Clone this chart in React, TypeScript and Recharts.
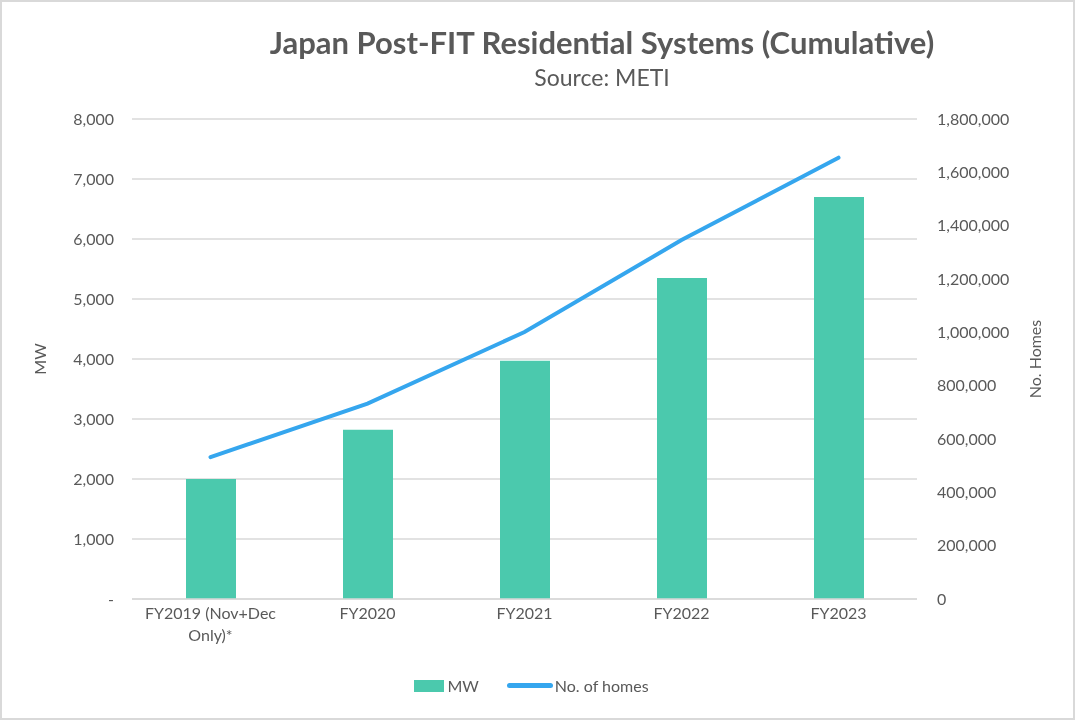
import React from "react";
import {
  ComposedChart,
  Bar,
  Line,
  XAxis,
  YAxis,
  CartesianGrid,
  Label,
} from "recharts";

const categories = [
  "FY2019 (Nov+Dec Only)*",
  "FY2020",
  "FY2021",
  "FY2022",
  "FY2023",
];
const mwValues = [2000, 2820, 3970, 5350, 6700];
const homesValues = [532000, 733000, 1001000, 1346000, 1655000];
const leftTicks = [0, 1000, 2000, 3000, 4000, 5000, 6000, 7000, 8000];
const rightTicks = [0, 200000, 400000, 600000, 800000, 1000000, 1200000, 1400000, 1600000, 1800000];

const data = categories.map((c, i) => ({
  name: c,
  mw: mwValues[i],
  homes: homesValues[i],
}));

const FONT = "Lato, 'Open Sans', sans-serif";
const TEXT = "#595959";
const BAR = "#4BC9AD";
const LINE = "#35A6EE";

const fmt = (v: number) => v.toLocaleString("en-US");

const XTick = (props: any) => {
  const { x, y, payload } = props;
  const label: string = payload.value;
  const lines = label === "FY2019 (Nov+Dec Only)*" ? ["FY2019 (Nov+Dec", "Only)*"] : [label];
  return (
    <g transform={`translate(${x},${y})`}>
      {lines.map((l, i) => (
        <text
          key={i}
          x={0}
          y={12 + i * 22}
          textAnchor="middle"
          fill={TEXT}
          fontSize={16}
          fontFamily={FONT}
        >
          {l}
        </text>
      ))}
    </g>
  );
};

export default function App() {
  return (
    <div
      style={{
        position: "fixed",
        left: 0,
        top: 0,
        width: 1075,
        height: 720,
        boxSizing: "border-box",
        border: "2px solid #d9d9d9",
        background: "#fff",
        fontFamily: FONT,
      }}
    >
      <div
        style={{
          position: "absolute",
          top: 21,
          left: 0,
          width: 1200,
          textAlign: "center",
          color: TEXT,
          fontSize: 31,
          fontWeight: 700,
          lineHeight: "38px",
        }}
      >
        Japan Post-FIT Residential Systems (Cumulative)
      </div>
      <div
        style={{
          position: "absolute",
          top: 60,
          left: 0,
          width: 1200,
          textAlign: "center",
          color: TEXT,
          fontSize: 23,
          lineHeight: "30px",
        }}
      >
        Source: METI
      </div>
      <div style={{ position: "absolute", left: -2, top: -2 }}>
        <ComposedChart
          width={1075}
          height={720}
          data={data}
          margin={{ top: 119, right: 20, bottom: 71, left: 20 }}
        >
          <CartesianGrid vertical={false} stroke="#d9d9d9" strokeWidth={1.5} yAxisId="left" />
          <XAxis
            dataKey="name"
            tick={<XTick />}
            tickLine={false}
            axisLine={{ stroke: "#d9d9d9", strokeWidth: 1.5 }}
            height={50}
            interval={0}
          />
          <YAxis
            yAxisId="left"
            orientation="left"
            width={112}
            domain={[0, 8000]}
            ticks={leftTicks}
            tickFormatter={(v: number) => (v === 0 ? "-" : fmt(v))}
            tick={{ fill: TEXT, fontSize: 16, fontFamily: FONT }}
            tickLine={false}
            axisLine={false}
            tickMargin={12}
          >
            <Label
              value="MW"
              angle={-90}
              position="insideLeft"
              offset={20}
              style={{ fill: TEXT, fontSize: 16, fontFamily: FONT, textAnchor: "middle" }}
            />
          </YAxis>
          <YAxis
            yAxisId="right"
            orientation="right"
            width={138}
            domain={[0, 1800000]}
            ticks={rightTicks}
            tickFormatter={(v: number) => fmt(v)}
            tick={{ fill: TEXT, fontSize: 16, fontFamily: FONT, textAnchor: "start" }}
            tickLine={false}
            axisLine={false}
            tickMargin={14}
          >
            <Label
              value="No. Homes"
              angle={-90}
              position="insideRight"
              offset={20}
              style={{ fill: TEXT, fontSize: 16, fontFamily: FONT, textAnchor: "middle" }}
            />
          </YAxis>
          <Bar
            yAxisId="left"
            dataKey="mw"
            name="MW"
            fill={BAR}
            barSize={50}
            isAnimationActive={false}
          />
          <Line
            yAxisId="right"
            dataKey="homes"
            name="No. of homes"
            stroke={LINE}
            strokeWidth={4}
            dot={false}
            strokeLinecap="round"
            isAnimationActive={false}
          />
        </ComposedChart>
      </div>
      <div
        style={{
          position: "absolute",
          top: 674,
          left: -8,
          width: 1075,
          display: "flex",
          justifyContent: "center",
          alignItems: "center",
          color: TEXT,
          fontSize: 16,
        }}
      >
        <span style={{ display: "inline-block", width: 30, height: 12, background: BAR, marginRight: 3 }} />
        <span style={{ marginRight: 28 }}>MW</span>
        <span style={{ display: "inline-block", width: 46, height: 5, borderRadius: 3, background: LINE, marginRight: 2 }} />
        <span>No. of homes</span>
      </div>
    </div>
  );
}
